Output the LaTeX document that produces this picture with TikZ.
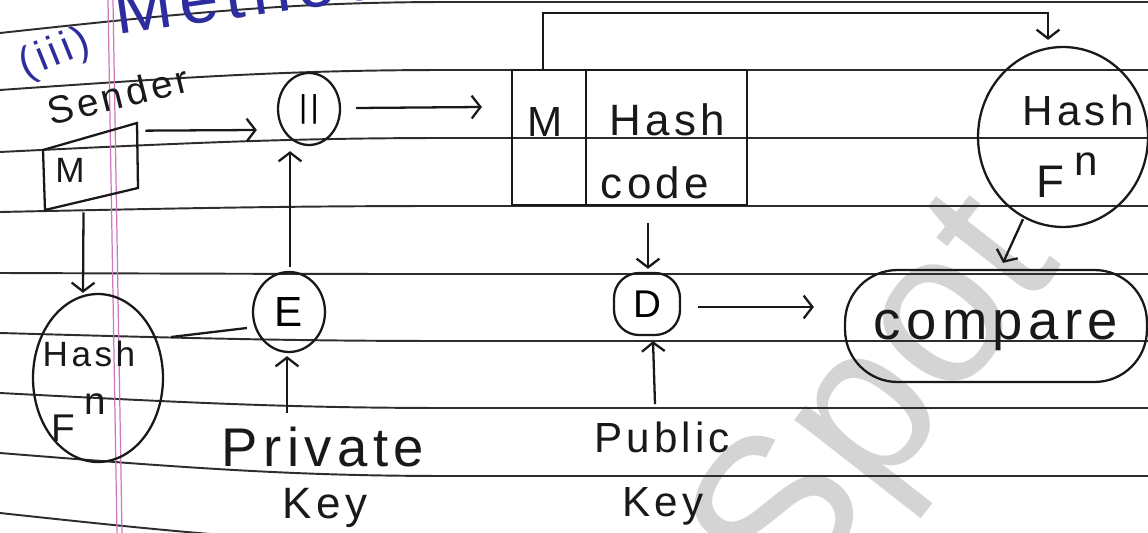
\documentclass[tikz,border=0pt]{standalone}
\usepackage{fontspec}
\setmainfont{Liberation Sans}
\newfontfamily\hand[LetterSpace=10]{Liberation Sans}
\usetikzlibrary{arrows.meta,calc,shapes.geometric}
\definecolor{ink}{RGB}{25,25,25}
\definecolor{ruleink}{RGB}{45,45,45}
\definecolor{marginink}{RGB}{205,120,190}
\definecolor{blueink}{RGB}{45,45,160}
\definecolor{wmark}{RGB}{212,212,212}
\newcommand{\hs}[1]{\hand\fontsize{#1}{#1}\selectfont}
\begin{document}
\begin{tikzpicture}[x=0.02cm,y=-0.02cm,
  inkline/.style={draw=ink, line width=1.3pt},
  arr/.style={inkline, -{Straight Barb[length=5pt,width=13pt]}},
  ruled/.style={draw=ruleink, line width=1.1pt},
  marg/.style={draw=marginink, line width=0.7pt},
  txt/.style={inner sep=0pt, text=ink},
  oval/.style={ellipse, inkline, inner sep=0pt},
  hidden/.style={inner sep=0pt},
  wmletter/.style={inner sep=0pt, text=wmark, rotate=52, anchor=base west, font=\fontsize{124}{124}\selectfont}]
\useasboundingbox (0,0) rectangle (1148,533);
\clip (0,0) rectangle (1148,533);
\fill[white] (0,0) rectangle (1148,533);
% watermark (behind the drawing)
\node[wmletter] (wmS) at (787,617) {S};
\node[wmletter] (wmp) at (876,503) {p};
\node[wmletter] (wmo) at (951,407) {o};
\node[wmletter] (wmt) at (1025,312) {t};
% ruled paper
\foreach \yl/\yr in {33/2, 90/70, 152/138, 212/206, 273/274, 333/341, 393/408, 453/476, 513/544}
  \draw[ruled] (0,\yl) .. controls (200,{\yr+(\yl-\yr)*0.3}) and (300,\yr) .. (450,\yr) -- (1148,\yr);
\draw[marg] (108,0) -- (117,533);
\draw[marg] (113,0) -- (122,533);
% heading
\node[txt, text=blueink, rotate=22] (num) at (55,55) {\hs{24}(iii)};
\node[txt, text=blueink, rotate=8, anchor=south west] (meth) at (117,36) {\hs{40}Method};
\node[txt, rotate=14] (sender) at (118,95) {\hs{22}Sender};
% sender message box
\node[hidden, minimum width=1.94cm, minimum height=1.74cm] (mbox) at (91.5,166.5) {};
\draw[inkline] (43,150) -- (137,123) -- (138,188) -- (45,210) -- cycle;
\node[txt] (mtxt) at (70,170) {\hs{20}M};
% concatenation
\node[oval, minimum width=1.24cm, minimum height=1.44cm] (par) at (309,109) {\hs{18}||};
% M | Hash code box
\node[rectangle, inkline, minimum width=4.7cm, minimum height=2.7cm] (hbox) at (629.5,137.5) {};
\draw[inkline] ($(hbox.north west)+(75,0)$) -- ($(hbox.south west)+(75,0)$);
\node[txt] (hm) at (545,122) {\hs{24}M};
\node[txt] (hh) at (667,120) {\hs{25}Hash};
\node[txt] (hc) at (655,183) {\hs{25}code};
% right hash function
\node[oval, minimum width=3.4cm, minimum height=3.6cm] (hashR) at (1063,137) {};
\node[txt] (hashRa) at (1078,110) {\hs{24}Hash};
\node[txt] (hashRf) at (1050,182) {\hs{26}F};
\node[txt] (hashRn) at (1086,164) {\hs{24}n};
% left hash function
\node[oval, minimum width=2.6cm, minimum height=3.36cm] (hashL) at (98,378) {};
\node[txt] (hashLa) at (89,354) {\hs{20}Hash};
\node[txt] (hashLf) at (63,428) {\hs{22}F};
\node[txt] (hashLn) at (95,404) {\hs{22}n};
% encrypt / decrypt
\node[oval, minimum width=1.44cm, minimum height=1.6cm] (E) at (289,312) {\hs{24}E};
\node[rectangle, rounded corners=0.5cm, inkline, minimum width=1.32cm, minimum height=1.24cm, inner sep=0pt] (D) at (647,304) {\hs{22}D};
% compare
\node[rectangle, rounded corners=1.05cm, inkline, minimum width=6.04cm, minimum height=2.24cm] (cmp) at (996,326) {};
\node[txt] (cmptxt) at (996,330) {\hs{31}compare};
% keys
\node[txt] (private) at (323,447) {\hs{31}Private};
\node[txt] (pkey) at (325,508) {\hs{25}Key};
\node[txt] (public) at (662,437) {\hs{24}Public};
\node[txt] (ukey) at (663,506) {\hs{24}Key};
% connectors
\draw[arr] ($(mbox.north east)+(5,8)$) -- ($(par.west)+(-20,21)$);
\draw[arr] ($(par.east)+(15,-1)$) -- ($(hbox.west |- par.east)+(-29,-2)$);
\draw[arr] ($(E.north)+(1,-4)$) -- ($(E.north |- par.south)+(1,5)$);
\draw[arr] ($(E.south |- private.north)+(-2,-14)$) -- ($(E.south)+(-2,3)$);
\draw[arr] ($(mbox.south)+(-8,2)$) -- ($(hashL.north)+(-15,0)$);
\draw[inkline] ($(hashL.east)+(7,-41)$) -- ($(E.west)+(-5,16)$);
\draw[arr] ($(D.north |- hbox.south)+(1,17)$) -- ($(D.north)+(1,-3)$);
\draw[arr] ($(D.south |- public.north)+(8,-17)$) -- ($(D.south)+(6,5)$);
\draw[arr] ($(D.east)+(17,3)$) -- ($(D.east -| cmp.west)+(-30,3)$);
\draw[arr] ($(hbox.north west)+(32,0)$) |- ($(hashR.north)+(-15,-33)$) -- ($(hashR.north)+(-15,-6)$);
\draw[arr] ($(hashR.south)+(-40,-9)$) -- ($(cmp.north)+(7,-6)$);
\end{tikzpicture}
\end{document}
